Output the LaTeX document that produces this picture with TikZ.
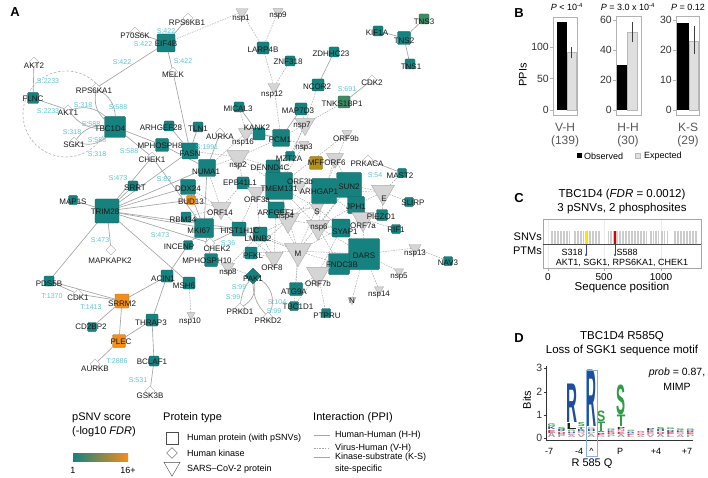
\documentclass[tikz,border=0pt]{standalone}
\usepackage{fontspec}
\setmainfont{Liberation Sans}
\usepackage{graphicx}
\usetikzlibrary{shapes.geometric}
\pgfdeclarelayer{back}\pgfdeclarelayer{bg}\pgfdeclarelayer{fg}
\pgfsetlayers{back,bg,main,fg}
\definecolor{tealF}{HTML}{16827F}
\definecolor{tealB}{HTML}{0B5F5C}
\definecolor{orF}{HTML}{F28E1C}
\definecolor{orB}{HTML}{B86A10}
\definecolor{olF}{HTML}{B38F1D}
\definecolor{olB}{HTML}{7F6412}
\definecolor{grnF}{HTML}{3E8C66}
\definecolor{grnB}{HTML}{2A644A}
\definecolor{edg}{HTML}{A4A4A4}
\definecolor{site}{HTML}{5DC6D6}
\definecolor{lgg}{HTML}{2E9B45}
\definecolor{lgb}{HTML}{1F4E9C}
\definecolor{lgr}{HTML}{D0304A}
\definecolor{lgp}{HTML}{E07AA0}
\definecolor{lgy}{HTML}{A0A0A0}
\definecolor{lgk}{HTML}{202020}
\definecolor{ptm}{HTML}{3B3B8F}
\newcommand{\fsz}[1]{\fontsize{#1}{#1}\selectfont}
\newcommand{\netnode}[5]{\node[#1] (#2) at (#3) {};\begin{pgfonlayer}{fg}\node[lab] (#2-l) at (#4) {#5};\end{pgfonlayer}}
\newcounter{lgc}
\newcommand{\lgl}[6]{\stepcounter{lgc}\node[anchor=south,inner sep=0pt,text=#6] (lg\arabic{lgc}) at (#1,#2) {\resizebox{#3pt}{#4pt}{\bfseries #5}};}
\tikzset{
 hs/.style={draw=tealB, fill=tealF, rounded corners=1.2pt, minimum size=#1pt, inner sep=0pt, line width=0.4pt},
 hso/.style={hs=#1, fill=orF, draw=orB},
 hsl/.style={hs=#1, fill=olF, draw=olB},
 hsg/.style={hs=#1, fill=grnF, draw=grnB},
 kin/.style={diamond, draw=gray!65, fill=white, minimum width=#1pt, minimum height=#1pt, inner sep=0pt, line width=0.4pt},
 kin/.default=10,
 kinh/.style={diamond, draw=tealB, fill=tealF, minimum width=16pt, minimum height=16pt, inner sep=0pt, line width=0.4pt},
 vir/.style={regular polygon, regular polygon sides=3, shape border rotate=180, draw=gray!65, fill=gray!33, minimum size={#1*1.155pt}, inner sep=0pt, line width=0.4pt},
 lab/.style={font=\fsz{8}, inner sep=0pt, text=black!90},
 sitel/.style={font=\fsz{7}, text=site, inner sep=0pt},
 hh/.style={draw=edg, line width=0.65pt},
 vh/.style={draw=edg, line width=0.45pt, dash pattern=on 1.6pt off 1.1pt},
 pan/.style={font=\bfseries\fsz{13}, inner sep=0pt},
 ttl/.style={font=\fsz{11.5}, inner sep=0pt},
 tkl/.style={font=\fsz{10.5}, inner sep=0pt, text=black!80},
 fr/.style={draw=gray!60, line width=0.6pt},
 expb/.style={draw=gray!55, fill=gray!25, line width=0.5pt},
 errb/.style={draw=black!75, line width=0.6pt},
 legt/.style={font=\fsz{11}, inner sep=0pt, anchor=west},
 legs/.style={font=\fsz{9}, inner sep=0pt, anchor=west},
}
\begin{document}
\begin{tikzpicture}[x=1pt,y=-1pt]
\useasboundingbox (0,0) rectangle (708,478);
\begin{pgfonlayer}{back}\fill[white] (0,0) rectangle (708,478);\end{pgfonlayer}
\node[pan] (pA) at (15,12) {A};
% ---------- kinases
\netnode{kin}{RPS6KB1}{188,18}{187,23}{RPS6KB1}
\netnode{kin}{P70S6K}{135,32}{135,36}{P70S6K}
\netnode{kin}{MELK}{173,72}{173,75}{MELK}
\netnode{kin}{AKT2}{34,62}{34,66}{AKT2}
\netnode{kin}{RPS6KA1}{96,88}{94,91}{RPS6KA1}
\netnode{kin}{AKT1}{68,110}{68,113}{AKT1}
\netnode{kin}{SGK1}{74,142}{74,145}{SGK1}
\netnode{kin}{CHEK1}{152,157}{152,160}{CHEK1}
\netnode{kin}{AURKA}{220,133}{220,137}{AURKA}
\netnode{kin}{CDK2}{372,80}{372,83}{CDK2}
\netnode{kin}{PRKACA}{368,160}{367,164}{PRKACA}
\netnode{kin}{CHEK2}{210,243}{217,249}{CHEK2}
\netnode{kin}{MAPKAPK2}{111,250}{110,261}{MAPKAPK2}
\netnode{kin}{CDK1}{78,294}{78,298}{CDK1}
\netnode{kin}{AURKB}{95,364}{95,369}{AURKB}
\netnode{kin}{GSK3B}{150,391}{150,396}{GSK3B}
\netnode{kin}{PRKD1}{240,308}{240,312}{PRKD1}
\netnode{kin}{PRKD2}{268,317}{268,321}{PRKD2}
\netnode{kinh}{PAK1}{253,276}{253,279}{PAK1}
% ---------- human proteins
\netnode{hs=18}{EIF4B}{166,43}{166,44}{EIF4B}
\netnode{hs=11}{FLNC}{33,98}{33,99}{FLNC}
\netnode{hs=21}{TBC1D4}{115,127}{110,129}{TBC1D4}
\netnode{hs=10}{ARHGEF28}{169,126}{161,128}{ARHGEF28}
\netnode{hs=10}{TLN1}{198,127}{198,129}{TLN1}
\netnode{hs=13}{MPHOSPH8}{162,145}{160,146}{MPHOSPH8}
\netnode{hs=16}{FASN}{190,151}{190,154}{FASN}
\netnode{hs=17}{NUMA1}{207,168}{206,172}{NUMA1}
\netnode{hs=10}{MICAL3}{239,107}{238,109}{MICAL3}
\netnode{hs=12}{LARP4B}{263,48}{263,50}{LARP4B}
\netnode{hs=10}{ZNF318}{290,61}{288,62}{ZNF318}
\netnode{hs=10}{ZDHHC23}{334,52}{331,54}{ZDHHC23}
\netnode{hs=12}{NCOR2}{318,85}{317,87}{NCOR2}
\netnode{hsg=12}{TNKS1BP1}{344,102}{342,104}{TNKS1BP1}
\netnode{hs=10}{KIF1A}{378,31}{377,33}{KIF1A}
\netnode{hs=13}{TNS2}{404,38}{404,41}{TNS2}
\netnode{hsg=10}{TNS3}{424,19}{424,22}{TNS3}
\netnode{hs=10}{TNS1}{410,64}{411,67}{TNS1}
\netnode{hs=12}{MAP7D3}{301,109}{298,111}{MAP7D3}
\netnode{hs=12}{KANK2}{259,134}{257,128}{KANK2}
\netnode{hs=17}{PCM1}{281,138}{280,140}{PCM1}
\netnode{hs=9}{MZT2A}{290,156}{289,159}{MZT2A}
\netnode{hsl=13}{MFF}{316,163}{316,163}{MFF}
\netnode{hs=14}{DENND4C}{273,167}{270,168}{DENND4C}
\netnode{hs=27}{TMEM131}{279,186}{279,189}{TMEM131}
\netnode{hs=12}{EPB41L1}{243,183}{240,183}{EPB41L1}
\netnode{hs=25}{ARHGAP1}{324,191}{319,192}{ARHGAP1}
\netnode{hs=25}{SUN2}{349,185}{349,187}{SUN2}
\netnode{hs=9}{MAST2}{402,173}{400,176}{MAST2}
\netnode{hs=9}{SLIRP}{409,202}{413,203}{SLIRP}
\netnode{hs=17}{JPH1}{356,205}{356,207}{JPH1}
\netnode{hs=16}{ARFGEF1}{276,210}{276,213}{ARFGEF1}
\netnode{hs=11}{PIEZO1}{382,215}{381,217}{PIEZO1}
\netnode{hs=18}{SYAP1}{341,228}{345,232}{SYAP1}
\netnode{hs=9}{RIF1}{396,229}{396,230}{RIF1}
\netnode{hs=14}{HIST1H1C}{239,229}{240,231}{HIST1H1C}
\netnode{hs=14}{LMNB2}{260,234}{258,239}{LMNB2}
\netnode{hs=31}{DARS}{364,254}{364,256}{DARS}
\netnode{hs=21}{FNDC3B}{339,264}{342,265}{FNDC3B}
\netnode{hs=9}{NAV3}{448,261}{448,263}{NAV3}
\netnode{hs=12}{PFKL}{251,253}{253,256}{PFKL}
\netnode{hs=13}{ATG9A}{296,289}{294,292}{ATG9A}
\netnode{hs=9}{TBC1D1}{294,306}{298,307}{TBC1D1}
\netnode{hs=9}{PTPRU}{326,313}{327,316}{PTPRU}
\netnode{hs=13}{MPHOSPH10}{211,260}{207,261}{MPHOSPH10}
\netnode{hs=10}{SRRT}{133,186}{135,188}{SRRT}
\netnode{hs=15}{DDX24}{188,187}{188,189}{DDX24}
\netnode{hso=9}{BUD13}{191,200}{191,202}{BUD13}
\netnode{hs=9}{MAP1S}{73,200}{73,202}{MAP1S}
\netnode{hs=24}{TRIM28}{107,211}{105,212}{TRIM28}
\netnode{hs=10}{RBM34}{186,217}{183,220}{RBM34}
\netnode{hs=19}{MKI67}{204,228}{199,231}{MKI67}
\netnode{hs=9}{INCENP}{188,245}{179,247}{INCENP}
\netnode{hs=12}{ACIN1}{167,276}{163,279}{ACIN1}
\netnode{hs=12}{MSH6}{189,283}{184,286}{MSH6}
\netnode{hs=10}{PDS5B}{49,281}{49,284}{PDS5B}
\netnode{hso=14}{SRRM2}{122,301}{122,304}{SRRM2}
\netnode{hs=9}{CD2BP2}{92,327}{91,327}{CD2BP2}
\netnode{hs=12}{THRAP3}{152,320}{151,323}{THRAP3}
\netnode{hso=13}{PLEC}{119,341}{121,342}{PLEC}
\netnode{hs=10}{BCLAF1}{154,361}{152,362}{BCLAF1}
% ---------- virus proteins
\netnode{vir=12}{nsp1}{242,12}{241,19}{nsp1}
\netnode{vir=10}{nsp9}{278,11.5}{278,16}{nsp9}
\netnode{vir=12}{nsp12}{274,87}{272,95}{nsp12}
\netnode{vir=20}{nsp7}{305,124}{302,126}{nsp7}
\netnode{vir=15}{nsp16}{246,133}{243,143}{nsp16}
\netnode{vir=10}{nsp3}{304,144.5}{304,148}{nsp3}
\netnode{vir=10}{ORF9b}{347,133.5}{346,139}{ORF9b}
\netnode{vir=17}{ORF6}{335,158.5}{335,163}{ORF6}
\netnode{vir=22}{nsp2}{238,157}{238,166}{nsp2}
\netnode{vir=12}{ORF3b}{300,186}{300,182}{ORF3b}
\netnode{vir=17}{ORF3a}{256,192.5}{257,200}{ORF3a}
\netnode{vir=20}{ORF14}{221,208}{220,213}{ORF14}
\netnode{vir=23}{E}{383,192}{384,199}{E}
\netnode{vir=13}{S}{317,208}{317,212}{S}
\netnode{vir=23}{nsp4}{288,220}{285,217}{nsp4}
\netnode{vir=23}{nsp6}{318,227}{319,228}{nsp6}
\netnode{vir=22}{ORF7a}{363,219}{363,226}{ORF7a}
\netnode{vir=27}{M}{298,251}{298,254}{M}
\netnode{vir=12}{nsp13}{415,248}{415,254}{nsp13}
\netnode{vir=18}{ORF8}{274,257.5}{272,268}{ORF8}
\netnode{vir=23}{ORF7b}{318,274}{318,284}{ORF7b}
\netnode{vir=9}{nsp5}{399,271.5}{399,277}{nsp5}
\netnode{vir=13}{nsp8}{228,267}{228,273}{nsp8}
\netnode{vir=9}{nsp14}{379,289.5}{379,295}{nsp14}
\netnode{vir=8}{N}{352,300}{352,301}{N}
\netnode{vir=8}{nsp10}{191,315}{190,322}{nsp10}
% ---------- dashed circle
\node[inner sep=0pt, minimum size=0pt] (circC) at (66,114) {};
\begin{pgfonlayer}{bg}
\draw[draw=gray!60, line width=0.6pt, dash pattern=on 2.5pt off 1.8pt] (66,114) ++(30:43) arc[start angle=30, end angle=330, radius=43];
% ---------- H-H edges
\foreach \a/\b in {TBC1D4/MPHOSPH8, MPHOSPH8/NUMA1, ARHGEF28/FASN, TLN1/FASN, FASN/NUMA1, MELK/FASN,
 TRIM28/SRRT, TRIM28/DDX24, TRIM28/NUMA1, TRIM28/FASN, TRIM28/MKI67, TRIM28/HIST1H1C, TRIM28/MAP1S, TRIM28/PDS5B, TRIM28/MSH6, TRIM28/BUD13,
 DDX24/MKI67, RBM34/MKI67, MKI67/HIST1H1C, MKI67/INCENP, INCENP/ACIN1, MKI67/MPHOSPH10, NUMA1/MKI67,
 ACIN1/SRRM2, ACIN1/THRAP3, PDS5B/SRRM2, SRRM2/CD2BP2, SRRM2/PLEC, PLEC/THRAP3, THRAP3/BCLAF1,
 MICAL3/KANK2, KANK2/PCM1, ZDHHC23/NCOR2, KIF1A/TNS2, TNS2/TNS3, TNS2/TNS1, MAP7D3/PCM1}
 \draw[hh] (\a) -- (\b);
% ---------- K-S edges
\foreach \a/\b in {RPS6KB1/EIF4B, P70S6K/EIF4B, RPS6KA1/EIF4B, MELK/EIF4B, AKT2/FLNC, AKT1/FLNC, CHEK1/TBC1D4,
 AURKA/NUMA1, CHEK1/TRIM28, CHEK1/MKI67, MAPKAPK2/TRIM28, CHEK2/TRIM28, CHEK2/HIST1H1C, CDK2/TNKS1BP1, PRKACA/MAST2,
 CDK1/PDS5B, CDK1/SRRM2, AURKB/PLEC, GSK3B/BCLAF1}
 \draw[hh] (\a) -- (\b);
\foreach \a/\b in {RPS6KA1/TBC1D4, AKT1/TBC1D4, SGK1/TBC1D4}{
 \draw[hh] (\a) to[bend left=28] (\b);
 \draw[hh] (\a) to[bend right=28] (\b);}
\draw[hh] (PAK1) to[bend left=35] (PRKD1);
\draw[hh] (PAK1) to[bend right=15] (PRKD1);
\draw[hh] (PAK1) to[bend left=45] (PRKD2);
\draw[hh] (PAK1) to[bend right=20] (PRKD2);
% ---------- V-H edges
\foreach \a/\b in {nsp1/EIF4B, nsp1/LARP4B, nsp9/LARP4B, nsp12/LARP4B, nsp12/ZNF318, nsp12/PCM1,
 nsp16/KANK2, nsp16/PCM1, nsp16/NUMA1, nsp16/MICAL3,
 nsp7/MAP7D3, nsp7/PCM1, nsp7/TNKS1BP1, nsp7/NCOR2, nsp7/MZT2A, nsp7/TMEM131,
 nsp3/PCM1, nsp3/DENND4C, nsp3/TMEM131, ORF9b/TMEM131, ORF9b/ARHGAP1,
 ORF6/MFF, ORF6/ARHGAP1, ORF6/SUN2,
 nsp2/NUMA1, nsp2/PCM1, nsp2/DENND4C, nsp2/EPB41L1, nsp2/TMEM131, nsp2/FASN,
 ORF3b/TMEM131, ORF3b/ARHGAP1, ORF3b/DENND4C,
 ORF3a/TMEM131, ORF3a/EPB41L1, ORF3a/HIST1H1C, ORF3a/ARFGEF1, ORF3a/LMNB2,
 ORF14/NUMA1, ORF14/DDX24, ORF14/BUD13, ORF14/MKI67, ORF14/EPB41L1, ORF14/HIST1H1C, ORF14/RBM34,
 S/TMEM131, S/ARHGAP1, S/SUN2, S/SYAP1, S/ARFGEF1,
 nsp4/TMEM131, nsp4/ARFGEF1, nsp4/ARHGAP1, nsp4/SUN2, nsp4/LMNB2, nsp4/SYAP1, nsp4/PFKL,
 nsp6/ARHGAP1, nsp6/SUN2, nsp6/JPH1, nsp6/SYAP1, nsp6/DARS, nsp6/FNDC3B, nsp6/TMEM131,
 ORF7a/SUN2, ORF7a/JPH1, ORF7a/PIEZO1, ORF7a/DARS, ORF7a/RIF1, ORF7a/SYAP1, ORF7a/ARHGAP1,
 E/SUN2, E/MAST2, E/SLIRP, E/PIEZO1, E/JPH1, E/ARHGAP1,
 M/TMEM131, M/ARFGEF1, M/FNDC3B, M/DARS, M/SYAP1, M/ATG9A, M/TBC1D1, M/PFKL, M/HIST1H1C, M/SUN2, M/LMNB2, M/ARHGAP1,
 ORF8/PFKL, ORF8/HIST1H1C, ORF8/LMNB2, ORF8/ARFGEF1,
 ORF7b/ATG9A, ORF7b/PTPRU, ORF7b/FNDC3B, ORF7b/DARS, ORF7b/TBC1D1, ORF7b/SYAP1,
 nsp13/DARS, nsp13/NAV3, nsp5/DARS, nsp14/DARS, N/DARS,
 nsp8/MPHOSPH10, nsp8/LMNB2, nsp8/PAK1, nsp10/MSH6}
 \draw[vh] (\a) -- (\b);
\end{pgfonlayer}
% ---------- site labels
\begin{pgfonlayer}{fg}
\foreach \n/\p/\t in {s1/{166,31}/S:422, s2/{143,44}/S:422, s3/{122,62}/S:422, s4/{183,61}/S:422,
 s5/{48,81}/S:2233, s6/{48,111}/S:2233, s7/{83,105}/S:318, s8/{118,107}/S:588, s9/{91,124}/S:588,
 s10/{72,132}/S:318, s11/{97,140}/S:588, s12/{97,154}/S:318, s13/{129,151}/S:588, s14/{207,147}/S:1991,
 s15/{118,178}/S:473, s16/{164,179}/S:82, s17/{100,240}/S:473, s18/{160,235}/S:473, s19/{228,243}/S:36,
 s20/{347,89}/S:691, s21/{375,175}/S:54, s22/{239,287}/S:99, s23/{233,297}/S:99, s24/{277,302}/S:104,
 s25/{274,311}/S:99, s26/{52,296}/T:1370, s27/{91,307}/T:1413, s28/{117,361}/T:2886, s29/{138,380}/S:531}
 \node[sitel] (\n) at (\p) {\t};
\end{pgfonlayer}
% ---------- legend A
\node[legt] (lg1a) at (72,418) {pSNV score};
\node[legt] (lg1b) at (72,432) {(-log10 \textit{FDR})};
\shade[left color=tealF, right color=orF] (73,453) rectangle (128,461);
\node[legs, anchor=center] (lg1c) at (73,470) {1};
\node[legs, anchor=center] (lg1d) at (128,470) {16+};
\node[legt] (lg2a) at (163,418) {Protein type};
\node[draw=black!70, line width=0.5pt, minimum size=12pt, inner sep=0pt] (lgsq) at (172,438) {};
\node[kin=11, draw=black!70] (lgdi) at (172,453) {};
\node[vir=16, draw=black!70, fill=white] (lgtr) at (172,467) {};
\node[legs] (lg2b) at (187,438) {Human protein (with pSNVs)};
\node[legs] (lg2c) at (187,453) {Human kinase};
\node[legs] (lg2d) at (187,469) {SARS–CoV-2 protein};
\node[legt] (lg3a) at (313,418) {Interaction (PPI)};
\coordinate (l1a) at (314,435); \coordinate (l1b) at (330,435);
\coordinate (l2a) at (314,448); \coordinate (l2b) at (330,448);
\coordinate (l3a) at (314,457); \coordinate (l3b) at (330,457);
\draw[hh] (l1a) -- (l1b);
\draw[vh] (l2a) -- (l2b);
\draw[hh] (l3a) -- (l3b);
\node[legs] (lg3b) at (335,435) {Human-Human (H-H)};
\node[legs] (lg3c) at (335,448) {Virus-Human (V-H)};
\node[legs] (lg3d) at (335,457) {Kinase-substrate (K-S)};
\node[legs] (lg3e) at (335,469) {site-specific};
% ---------- panel B
\node[pan] (pB) at (519,13) {B};
\node[font=\fsz{11}, rotate=90, inner sep=0pt] (ppis) at (523,75) {PPIs};
% plot 1
\draw[fr] (553,17) rectangle (577,115);
\fill[black] (557,22.4) rectangle (567,110);
\draw[expb] (567,52.7) rectangle (576,110);
\draw[errb] (571.5,47) -- (571.5,58);
\foreach \v/\yy in {0/110,50/78.5,100/47}{\draw[fr] (550,\yy) -- (553,\yy); \node[tkl, anchor=east] (ta\v) at (549,\yy) {\v};}
% plot 2
\draw[fr] (616,16) rectangle (641,115);
\fill[black] (617,65) rectangle (627,110);
\draw[expb] (627,32) rectangle (637,110);
\draw[errb] (632,22) -- (632,42);
\foreach \v/\yy in {0/110,20/80,40/50,60/20}{\draw[fr] (613,\yy) -- (616,\yy); \node[tkl, anchor=east] (tb\v) at (612,\yy) {\v};}
% plot 3
\draw[fr] (676,16) rectangle (699,115);
\fill[black] (677,23) rectangle (689,110);
\draw[expb] (689,41) rectangle (698,110);
\draw[errb] (694,26) -- (694,54);
\foreach \v/\yy in {0/110,10/80,20/50,30/20}{\draw[fr] (673,\yy) -- (676,\yy); \node[tkl, anchor=east] (tc\v) at (672,\yy) {\v};}
\node[font=\fsz{9}, inner sep=0pt] (pv1) at (567,7) {\textit{P} < 10\textsuperscript{-4}};
\node[font=\fsz{9}, inner sep=0pt] (pv2) at (628,7) {\textit{P} = 3.0 x 10\textsuperscript{-4}};
\node[font=\fsz{9}, inner sep=0pt] (pv3) at (688,7) {\textit{P} = 0.12};
\foreach \n/\xx/\ta/\tb in {c1/565/V-H/(139), c2/628/H-H/(30), c3/688/K-S/(29)}{
 \node[font=\fsz{12}, text=black!65, inner sep=0pt] (\n a) at (\xx,127) {\ta};
 \node[font=\fsz{12}, text=black!65, inner sep=0pt] (\n b) at (\xx,141) {\tb};}
\fill[black] (576.5,153.5) rectangle (581.5,158.5);
\draw[expb] (635.5,153.5) rectangle (640.5,158.5);
\node[font=\fsz{9}, inner sep=0pt, anchor=west] (obs) at (584,156) {Observed};
\node[font=\fsz{9}, inner sep=0pt, anchor=west] (exp) at (644,156) {Expected};
% ---------- panel C
\node[pan] (pC) at (519,198) {C};
\node[ttl] (ct1) at (622,195) {TBC1D4 (\textit{FDR} = 0.0012)};
\node[ttl] (ct2) at (622,209) {3 pSNVs, 2 phosphosites};
\foreach \xx in {548,604,661} \draw[gray!15, line width=0.4pt] (\xx,219) -- (\xx,268);
\foreach \xa/\xb in {551/570, 574/584, 587.5/600.5, 608.5/647, 650/653, 655/658, 661/664, 674/696.5}{
 \pgfmathsetmacro{\xs}{\xa+1.5}
 \foreach \xx in {\xa,\xs,...,\xb} \draw[gray!40, line width=0.55pt] (\xx,231) -- (\xx,244);}
\draw[gray!40, line width=0.55pt] (667.5,231) -- (667.5,244);
\draw[yellow!90!orange, line width=1.1pt] (586,231) -- (586,244);
\draw[red!85!black, line width=1.1pt] (615,231) -- (615,244);
\draw[yellow!90!orange, line width=1.1pt] (617.5,231) -- (617.5,244);
\draw[draw=gray!70, line width=0.6pt] (543,219) rectangle (701,268);
\draw[draw=black!70, line width=0.5pt] (543,244) -- (701,244);
\draw[ptm, line width=0.7pt] (586,244) -- (586,255);
\draw[ptm, line width=0.7pt] (615,244) -- (615,255);
\fill[ptm] (586,255) circle[radius=1.1pt];
\fill[ptm] (615,255) circle[radius=1.1pt];
\node[font=\fsz{11}, inner sep=0pt, anchor=east] (snv) at (542,237) {SNVs};
\node[font=\fsz{11}, inner sep=0pt, anchor=east] (ptms) at (542,251) {PTMs};
\node[font=\fsz{9}, inner sep=0pt] (s318) at (572,252) {S318};
\node[font=\fsz{9}, inner sep=0pt] (s588) at (627,252) {S588};
\node[font=\fsz{9}, inner sep=0pt] (kins) at (622,263) {AKT1, SGK1, RPS6KA1, CHEK1};
\foreach \xx/\t in {548/0,604/500,661/1000}{\draw[gray!70, line width=0.5pt] (\xx,268) -- (\xx,271); \node[font=\fsz{10}, inner sep=0pt] (cx\t) at (\xx,277.5) {\t};}
\node[ttl] (seqp) at (622,288) {Sequence position};
% ---------- panel D
\node[pan] (pD) at (519,338) {D};
\node[ttl] (dt1) at (622,337) {TBC1D4 R585Q};
\node[ttl] (dt2) at (622,351) {Loss of SGK1 sequence motif};
\node[font=\fsz{11}, rotate=90, inner sep=0pt] (bits) at (527,400) {Bits};
\draw[black!80, line width=0.5pt] (546.5,366) -- (546.5,440) -- (693,440);
\foreach \v/\yy in {0/438,1/415,2/392,3/368}{\draw[black!80, line width=0.5pt] (543.5,\yy) -- (546.5,\yy); \node[tkl, anchor=east] (dy\v) at (542.5,\yy) {\v};}
\foreach \px/\h/\la/\ca/\lb/\cb/\lc/\cc/\ld/\cd in {
 551.7/15/A/lgy/E/lgr/K/lgb/G/lgg, 561.6/11/P/lgy/D/lgr/R/lgb/S/lgg, 571.5/8/A/lgy/E/lgp/H/lgb/G/lgg,
 581.4/11/V/lgy/Q/lgp/K/lgb/T/lgg, 591.3/11/A/lgy/P/lgy/H/lgb/G/lgy, 601.2/6/G/lgy/E/lgr/R/lgb/A/lgk,
 611.1/9/P/lgy/D/lgr/K/lgb/G/lgg, 621/11/A/lgy/E/lgr/N/lgp/P/lgk, 630.9/7/L/lgy/E/lgr/R/lgb/S/lgg,
 640.8/6/A/lgy/D/lgr/Q/lgp/G/lgg, 650.7/10/V/lgy/E/lgp/K/lgb/P/lgk, 660.6/11/A/lgy/D/lgr/H/lgb/S/lgg,
 670.5/10/L/lgy/E/lgr/R/lgb/G/lgg, 680.4/9/A/lgy/Q/lgp/K/lgb/S/lgg, 690.3/9/P/lgy/E/lgr/R/lgb/G/lgg}{
 \pgfmathsetmacro{\ha}{0.28*\h}\pgfmathsetmacro{\hb}{0.2*\h}\pgfmathsetmacro{\hc}{0.18*\h}\pgfmathsetmacro{\hd}{0.18*\h}
 \pgfmathsetmacro{\yb}{438-\ha-0.4}\pgfmathsetmacro{\yc}{\yb-\hb-0.4}\pgfmathsetmacro{\yd}{\yc-\hc-0.4}
 \lgl{\px}{438}{8}{\ha}{\la}{\ca}
 \lgl{\px}{\yb}{8}{\hb}{\lb}{\cb}
 \lgl{\px}{\yc}{8}{\hc}{\lc}{\cc}
 \lgl{\px}{\yd}{8}{\hd}{\ld}{\cd}}
\lgl{571.5}{429.5}{10}{6}{L}{lgk}
\lgl{571.5}{423}{11}{38.5}{R}{lgb}
\lgl{581.4}{427}{7}{4}{S}{lgg}
\lgl{591.3}{427}{10}{56.5}{R}{lgb}
\lgl{601.2}{432}{8}{9.5}{T}{lgg}
\lgl{601.2}{422}{8.5}{10.5}{S}{lgg}
\lgl{621}{427}{8.5}{11.5}{T}{lgg}
\lgl{621}{415}{9}{29.5}{S}{lgg}
\draw[draw=cyan!60!blue!50, line width=0.8pt] (586,370) rectangle (597,456);
\foreach \n/\xx/\t in {xa/549/-7, xb/579/-4, xc/591.5/\^{}, xd/620/P, xe/656/+4, xf/687/+7}
 \node[font=\fsz{9}, inner sep=0pt] (\n) at (\xx,451) {\t};
\node[font=\fsz{11}, inner sep=0pt] (rq) at (592,464) {R 585 Q};
\node[font=\fsz{10.5}, inner sep=0pt] (prob) at (677,373) {\textit{prob} = 0.87,};
\node[font=\fsz{10.5}, inner sep=0pt] (mimp) at (677,387) {MIMP};
\end{tikzpicture}
\end{document}
